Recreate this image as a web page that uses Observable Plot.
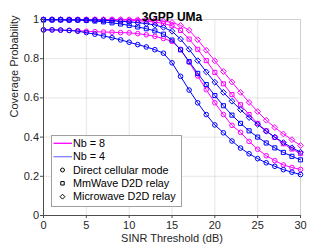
<!DOCTYPE html>
<html>
<head>
<meta charset="utf-8">
<script src="https://cdn.jsdelivr.net/npm/d3@7"></script>
<script src="https://cdn.jsdelivr.net/npm/@observablehq/plot@0.6"></script>
<style>
  html, body { margin: 0; padding: 0; background: white; }
  #wrap { position: relative; width: 332px; height: 249px; }
  #legend { position: absolute; left: 51px; top: 135px; width: 131px; height: 72px;
            background: white; border: 1px solid #a0a0a0; box-sizing: border-box; }
</style>
</head>
<body>
<div id="wrap"><div id="chart"></div><div id="legend"></div></div>
<script>
// ---- data ----
const sinrThreshold = [0,1,2,3,4,5,6,7,8,9,10,11,12,13,14,15,16,17,18,19,20,21,22,23,24,25,26,27,28,29,30];

const nb8Direct     = [0.947,0.947,0.946,0.945,0.943,0.940,0.938,0.936,0.935,0.933,0.932,0.928,0.922,0.914,0.903,0.888,0.848,0.782,0.712,0.642,0.575,0.515,0.460,0.424,0.378,0.338,0.305,0.280,0.258,0.245,0.235];
const nb8MmWave     = [0.999,0.999,0.999,0.999,0.999,0.999,0.999,0.998,0.998,0.997,0.996,0.994,0.991,0.987,0.980,0.968,0.944,0.900,0.848,0.790,0.730,0.672,0.617,0.565,0.515,0.470,0.432,0.398,0.366,0.339,0.316];
const nb8Microwave  = [1.000,1.000,1.000,1.000,1.000,1.000,1.000,1.000,1.000,1.000,0.999,0.999,0.998,0.996,0.992,0.985,0.970,0.945,0.897,0.843,0.789,0.735,0.681,0.628,0.577,0.530,0.486,0.449,0.416,0.387,0.357];

const nb4Direct     = [0.947,0.947,0.946,0.944,0.940,0.933,0.925,0.916,0.907,0.896,0.884,0.872,0.860,0.846,0.828,0.779,0.710,0.640,0.575,0.515,0.462,0.422,0.380,0.344,0.315,0.290,0.269,0.251,0.234,0.221,0.209];
const nb4MmWave     = [0.998,0.998,0.998,0.997,0.997,0.995,0.992,0.988,0.983,0.977,0.970,0.962,0.953,0.942,0.925,0.895,0.845,0.785,0.725,0.668,0.612,0.560,0.512,0.470,0.432,0.400,0.370,0.345,0.322,0.302,0.284];
const nb4Microwave  = [0.999,0.999,0.999,0.998,0.998,0.998,0.997,0.996,0.994,0.991,0.988,0.984,0.979,0.972,0.960,0.940,0.900,0.848,0.790,0.733,0.680,0.628,0.583,0.540,0.500,0.465,0.430,0.400,0.372,0.346,0.323];

const xTicks = [0,5,10,15,20,25,30];
const yTicks = [0,0.2,0.4,0.6,0.8,1];
const titleText = "3GPP UMa";
const xLabel = "SINR Threshold (dB)";
const yLabel = "Coverage Probability";
const nbLabels = ["Nb = 8", "Nb = 4"];
const relayLabels = ["Direct cellular mode", "MmWave D2D relay", "Microwave D2D relay"];

// ---- styling ----
const MAGENTA = "#ff00ff";
const BLUE = "#0000ff";
const symbols = {"Direct cellular mode": "circle", "MmWave D2D relay": "square", "Microwave D2D relay": "diamond2"};
const symR = {"circle": 2.3, "square": 2.3, "diamond2": 2.6};

const series = [
  {nb: "Nb = 8", relay: relayLabels[0], values: nb8Direct, color: MAGENTA},
  {nb: "Nb = 8", relay: relayLabels[1], values: nb8MmWave, color: MAGENTA},
  {nb: "Nb = 8", relay: relayLabels[2], values: nb8Microwave, color: MAGENTA},
  {nb: "Nb = 4", relay: relayLabels[0], values: nb4Direct, color: BLUE},
  {nb: "Nb = 4", relay: relayLabels[1], values: nb4MmWave, color: BLUE},
  {nb: "Nb = 4", relay: relayLabels[2], values: nb4Microwave, color: BLUE}
];

const marks = [
  Plot.gridX(xTicks, {stroke: "#000", strokeOpacity: 0.1}),
  Plot.gridY(yTicks, {stroke: "#000", strokeOpacity: 0.1}),
  Plot.frame({stroke: "#d0d0d0"})
];
for (const s of series) {
  const rows = sinrThreshold.map((x, i) => ({x, p: s.values[i]}));
  const sym = symbols[s.relay];
  marks.push(Plot.line(rows, {x: "x", y: "p", stroke: s.color, strokeWidth: 1}));
  marks.push(Plot.dot(rows, {x: "x", y: "p", symbol: () => sym, r: symR[sym], stroke: s.color, fill: "none", strokeWidth: 1}));
}
marks.push(
  Plot.ruleX([0], {stroke: "#4d4d4d"}),
  Plot.ruleY([0], {stroke: "#4d4d4d"}),
  Plot.axisX(xTicks, {tickSize: 3, tickPadding: 3, stroke: "#4d4d4d", fill: "#262626", label: null, fontSize: 11}),
  Plot.axisY(yTicks, {tickSize: 3, tickPadding: 1.5, stroke: "#4d4d4d", fill: "#262626", label: null, fontSize: 11, tickFormat: d => String(d)}),
  Plot.text([titleText], {frameAnchor: "top", dy: -7.5, fontWeight: "bold", fontSize: 12, fill: "#000"}),
  Plot.text([xLabel], {frameAnchor: "bottom", dy: 26, fontSize: 11, fill: "#262626"}),
  Plot.text([yLabel], {frameAnchor: "left", dx: -29, rotate: -90, fontSize: 11, fill: "#262626"})
);

const chart = Plot.plot({
  width: 332, height: 249,
  marginLeft: 43, marginRight: 32, marginTop: 19, marginBottom: 34,
  style: {fontFamily: "'Liberation Sans', Arial, sans-serif", fontSize: "11px", background: "white", color: "#262626"},
  x: {domain: [0, 30]},
  y: {domain: [0, 1]},
  symbol: {type: "identity"},
  marks
});
document.getElementById("chart").appendChild(chart);

// ---- legend (inside the axes, as in the reference) ----
const lg = d3.select("#legend").append("svg").attr("width", 129).attr("height", 70)
  .style("font-family", "'Liberation Sans', Arial, sans-serif").style("font-size", "10.8px");
const rowY = [7.3, 20.7, 34, 47.3, 60.7];
const lineEntries = [{label: nbLabels[0], color: MAGENTA}, {label: nbLabels[1], color: "#8080ff"}];
lineEntries.forEach((e, i) => {
  lg.append("line").attr("x1", 1.5).attr("x2", 20).attr("y1", rowY[i]).attr("y2", rowY[i]).attr("stroke", e.color).attr("stroke-width", 1.3);
  lg.append("text").attr("x", 21).attr("y", rowY[i]).attr("dy", "0.35em").attr("fill", "#000").text(e.label);
});
relayLabels.forEach((r, j) => {
  const sym = symbols[r];
  const d3sym = sym === "circle" ? d3.symbolCircle : sym === "square" ? d3.symbolSquare : d3.symbolDiamond2;
  const rr = symR[sym] * 0.85;
  lg.append("path").attr("d", d3.symbol(d3sym, Math.PI * rr * rr)())
    .attr("transform", `translate(10.5,${rowY[j + 2]})`).attr("fill", "none").attr("stroke", "#000").attr("stroke-width", 1);
  lg.append("text").attr("x", 21).attr("y", rowY[j + 2]).attr("dy", "0.35em").attr("fill", "#000").text(r);
});
</script>
</body>
</html>
